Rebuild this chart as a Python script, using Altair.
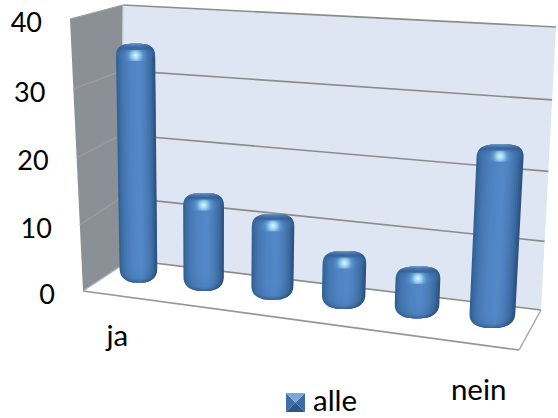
import altair as alt
import numpy as np
import pandas as pd

# Chart content
categories = ["ja", "", "", "", "", "nein"]
values = [35.3, 14, 12, 7.7, 6.7, 25]
ticks = [0, 10, 20, 30, 40]
series_name = "alle"
y_max = 40

W, H = 558, 418
FONT = "Lato"

# Oblique camera: the floor and the plane of the top tick on the canvas,
# listed front-left, front-right, back-right, back-left
FLOOR = np.array([(83, 291), (519, 350), (541, 310), (121, 259)], float)
CEIL = np.array([(70, 19), (537, 50), (556, 27), (123, 5)], float)


def blend(q, c, z):
    return (1 - z) * ((1 - c) * q[0] + c * q[1]) + z * ((1 - c) * q[3] + c * q[2])


def project(c, z, v):
    """Category fraction c, depth z (0 front, 1 back), value v -> canvas point."""
    a, b = blend(FLOOR, c, z), blend(CEIL, c, z)
    t = v / y_max
    return a + (b - a) * t * (0.96 + 0.04 * t)


def foreshorten(c):
    # Bars nearer the right-hand corner sit closer to the camera and spread wider
    return c - 0.08 * c * (1 - c) + 0.014 * (1 - c) ** 6


def convex_rows(points):
    """Convex polygon -> x, y, y2 rows for a filled area."""
    pts = np.array(points, float)
    xs = np.unique(pts[:, 0])
    n = len(pts)
    lo, hi = [], []
    for x in xs:
        ys = []
        for i in range(n):
            p, q = pts[i], pts[(i + 1) % n]
            if min(p[0], q[0]) <= x <= max(p[0], q[0]):
                if p[0] == q[0]:
                    ys += [p[1], q[1]]
                else:
                    ys.append(p[1] + (q[1] - p[1]) * (x - p[0]) / (q[0] - p[0]))
        lo.append(min(ys))
        hi.append(max(ys))
    return pd.DataFrame({"x": xs, "y": lo, "y2": hi})


SX = alt.Scale(domain=[0, W], range=[0, W], nice=False, zero=False)
SY = alt.Scale(domain=[0, H], range=[0, H], nice=False, zero=False)
X = alt.X("x:Q", scale=SX, axis=None)
Y = alt.Y("y:Q", scale=SY, axis=None)


def polygon(points, **mark):
    return alt.Chart(convex_rows(points)).mark_area(**mark).encode(x=X, y=Y, y2="y2:Q")


def segment(p, q, color, width):
    df = pd.DataFrame({"x": [p[0], q[0]], "y": [p[1], q[1]]})
    return alt.Chart(df).mark_line(color=color, strokeWidth=width).encode(x=X, y=Y)


def linear(stops):
    return {
        "gradient": "linear", "x1": 0, "y1": 0, "x2": 0, "y2": 1,
        "stops": [{"offset": o, "color": c} for o, c in stops],
    }


def radial(stops):
    return {
        "gradient": "radial",
        "x1": 0.5, "y1": 0.5, "r1": 0,
        "x2": 0.5, "y2": 0.5, "r2": 0.5,
        "stops": [{"offset": o, "color": c} for o, c in stops],
    }


p = lambda c, z, v: tuple(project(c, z, v))
final = []

# The side wall's foot meets the floor a little below the back wall's corner
back_foot = p(0, 1, 0)
side_foot = (back_foot[0], back_foot[1] + 7)

# Walls and floor
final.append(polygon([p(0, 0, 0), p(1, 0, 0), p(1, 1, 0), p(0, 1, 0)], color="#ffffff"))
final.append(polygon([p(0, 0, 0), p(0, 0, y_max), p(0, 1, y_max), side_foot], color="#8b9097"))
final.append(polygon([back_foot, p(0, 1, y_max), p(1, 1, y_max), p(1, 1, 0)], color="#dde6f2"))

# Gridlines on the back and side walls, floor outline
for t in ticks:
    if t:
        final.append(segment(p(0, 0, t), p(0, 1, t), "#a19d99", 1.2))
    else:
        final.append(segment(p(0, 0, t), side_foot, "#b5b5b5", 1.2))
    final.append(segment(p(0, 1, t), p(1, 1, t), "#8e8c8a", 1.6))
final.append(segment(p(0, 0, 0), p(1, 0, 0), "#969696", 1.7))
final.append(segment(p(1, 0, 0), p(1, 1, 0), "#a8a8a8", 1.5))
final.append(segment(p(0, 1, y_max), back_foot, "#c9d0d8", 1))

# Cylinders: shaded lengthwise strips, then top, base and highlight overlays
n_bars = len(values)
half_c = 0.05
depth = 0.5
TOP_CAP, BASE_CAP = 15.0, 15.0
EDGE_TOP, EDGE_BASE = 3.0, 3.0
shade_u = [0, 0.06, 0.16, 0.35, 0.58, 0.75, 0.88, 0.95, 1]
shade_c = ["#2f5d92", "#39699f", "#4577b2", "#4f83c1", "#5489c8", "#4a7cb8", "#3d6ca2", "#31598a", "#2a4f7c"]
SHADE_RGB = np.array([[int(h[i:i + 2], 16) for i in (1, 3, 5)] for h in shade_c], float)


def mix(u):
    return "#%02x%02x%02x" % tuple(int(round(np.interp(u, shade_u, SHADE_RGB[:, k]))) for k in range(3))


n_strips = 24
strip_rows = []
overlays = []
for i, v in enumerate(values):
    c = (i + 0.5) / n_bars
    cl, cm, cr = foreshorten(c - half_c), foreshorten(c), foreshorten(c + half_c)
    top = project(cm, depth, v) - [0, EDGE_TOP]
    base = project(cm, depth, 0) + [0, EDGE_BASE]
    wt = (project(cr, depth, v)[0] - project(cl, depth, v)[0]) / 2
    wb = (project(cr, depth, 0)[0] - project(cl, depth, 0)[0]) / 2
    ys = np.unique(np.concatenate([
        top[1] + TOP_CAP * (1 - np.cos(np.linspace(0, np.pi / 2, 16))),
        base[1] - BASE_CAP * (1 - np.cos(np.linspace(0, np.pi / 2, 16))),
    ]))
    f = (ys - top[1]) / (base[1] - top[1])
    xc = top[0] + (base[0] - top[0]) * f
    w = wt + (wb - wt) * f
    d_top = np.clip((ys - top[1]) / TOP_CAP, 0, 1)
    d_base = np.clip((base[1] - ys) / BASE_CAP, 0, 1)
    profile = (1 - (1 - d_top) ** 3.0) ** (1 / 3.0) * (1 - (1 - d_base) ** 2.5) ** (1 / 2.5)
    hw = w * profile
    for s in range(n_strips):
        u0, u1 = s / n_strips, (s + 1) / n_strips
        color = mix((u0 + u1) / 2)
        for y, xm, h in zip(ys, xc, hw):
            strip_rows.append({
                "id": f"{i}-{s:02d}", "y": y,
                "x": xm + h * (2 * u0 - 1),
                "x2": min(xm + h * (2 * u1 - 1) + 1.2, xm + h),
                "shade": color,
            })
    frame = pd.DataFrame({"y": ys, "x": xc - hw, "x2": xc + hw})
    overlays.append(("cap", frame[frame.y <= top[1] + 15]))
    overlays.append(("low", frame[frame.y >= base[1] - 16]))
    spot_y = top[1] + 12
    spot_x = top[0] + (base[0] - top[0]) * (12 / (base[1] - top[1]))
    overlays.append(("spot", pd.DataFrame({
        "x": [spot_x - 13, spot_x + 13], "y": [spot_y - 5.5] * 2, "y2": [spot_y + 5.5] * 2,
    })))

final.append(alt.Chart(pd.DataFrame(strip_rows)).mark_area(orient="horizontal").encode(
    x=X, x2="x2:Q", y=Y, detail="id:N", color=alt.Color("shade:N", scale=None),
))

CAP_FILL = linear([
    (0, "rgba(120,160,205,0.75)"), (0.12, "rgba(75,118,170,0.75)"),
    (0.3, "rgba(48,92,145,0.8)"), (0.55, "rgba(60,110,170,0.35)"), (1, "rgba(84,137,200,0)"),
])
LOW_FILL = linear([(0, "rgba(48,90,140,0)"), (0.7, "rgba(48,90,140,0.12)"), (1, "rgba(40,80,130,0.65)")])
SPOT_FILL = radial([
    (0, "rgba(225,248,255,1)"), (0.3, "rgba(170,225,250,0.8)"),
    (0.65, "rgba(105,170,225,0.3)"), (1, "rgba(90,150,215,0)"),
])
for kind, df in overlays:
    if kind == "spot":
        final.append(alt.Chart(df).mark_area(color=SPOT_FILL).encode(x=X, y=Y, y2="y2:Q"))
    else:
        fill = CAP_FILL if kind == "cap" else LOW_FILL
        final.append(alt.Chart(df).mark_area(orient="horizontal", color=fill).encode(x=X, x2="x2:Q", y=Y))


def label(text, x, y, align="left", size=29.5):
    df = pd.DataFrame({"x": [x], "y": [y], "t": [text]})
    return alt.Chart(df).mark_text(
        font=FONT, fontSize=size, color="#000000", align=align, baseline="alphabetic"
    ).encode(x=X, y=Y, text="t:N")


# Value axis labels run down the outer wall edge
for t in ticks:
    q = project(0, 0, t)
    final.append(label(str(t), q[0] - 28, q[1] + 12.5, align="right", size=27))

# Category labels below the floor
for i, name in enumerate(categories):
    if name:
        q = project((i + 0.5) / n_bars, 0, 0)
        final.append(label(name, q[0] + (-2 if i == 0 else -4), q[1] + (50 if i == 0 else 55), align="center"))

# Legend: bevelled swatch and series name
x0, x1, y0, y1 = 286.0, 305.0, 393.0, 412.0
xm, ym = (x0 + x1) / 2, (y0 + y1) / 2
final.append(polygon([(x0, y0), (x0, y1), (xm, ym)], color="#3e6fa8"))
final.append(polygon([(x1, y0), (x1, y1), (xm, ym)], color="#3d6ca3"))
final.append(polygon([(x0, y0), (x1, y0), (xm, ym)], color="#7fa7d6"))
final.append(polygon([(x0, y1), (x1, y1), (xm, ym)], color="#2f5683"))
final.append(label(series_name, 313, 411))

chart = alt.layer(*final).properties(
    width=W, height=H,
    autosize=alt.AutoSizeParams(type="none"),
    padding=0,
    background="#ffffff",
).configure_view(stroke=None)

chart.save("out.html", embed_options={"renderer": "svg", "actions": False})
